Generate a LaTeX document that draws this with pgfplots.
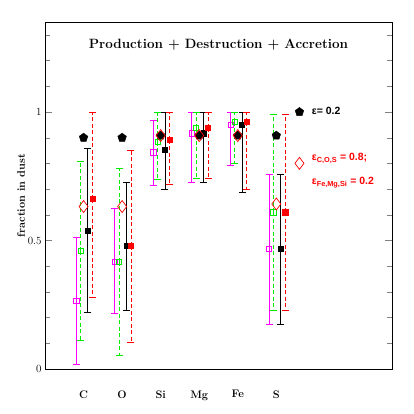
\documentclass[border=0pt]{standalone}
\usepackage{pgfplots}
\pgfplotsset{compat=1.18}
\usepackage{fontspec}
\newfontfamily\lsans{Liberation Sans}
\definecolor{mag}{RGB}{255,0,255}
\definecolor{grn}{RGB}{0,235,0}
\definecolor{rd}{RGB}{255,0,0}
\begin{document}
\begin{tikzpicture}
\begin{axis}[
  width=347bp, height=347bp, scale only axis,
  xmin=-1, xmax=8, ymin=0, ymax=1.35,
  xtick={0,1,2,3,4,5}, xticklabels={C,O,Si,Mg,Fe,S},
  x tick label style={yshift=-18bp, font=\fontsize{11}{13}\selectfont\bfseries},
  major x tick style={draw=none},
  ytick={0,0.5,1}, yticklabels={0,0.5,1},
  minor ytick={0.1,0.2,0.3,0.4,0.6,0.7,0.8,0.9,1.1,1.2,1.3},
  ytick pos=both, yticklabel pos=left,
  tick align=inside,
  major tick length=7bp, minor tick length=5bp,
  y tick label style={font=\fontsize{11}{13}\selectfont},
  ylabel={fraction in dust},
  ylabel style={font=\fontsize{11}{13}\selectfont\bfseries, yshift=-4bp},
  axis line style={line width=0.8pt},
  clip=false,
]
% magenta: open squares, solid bars
\addplot[mag, only marks, mark=square, mark size=2.6bp, mark options={line width=0.6pt},
  error bars/.cd, y dir=both, y explicit, error mark=|,
  error bar style={mag, line width=0.8pt},
  error mark options={mag, mark size=3.5bp, line width=0.8pt}]
  coordinates {
  (-0.19,0.265) += (0,0.246) -= (0,0.247)
  (0.81,0.418) += (0,0.205) -= (0,0.201)
  (1.81,0.843) += (0,0.126) -= (0,0.127)
  (2.81,0.917) += (0,0.083) -= (0,0.191)
  (3.81,0.949) += (0,0.051) -= (0,0.158)
  (4.81,0.467) += (0,0.292) -= (0,0.293)
  };
% green: open squares, dashed bars
\addplot[grn, only marks, mark=square, mark size=2.6bp, mark options={line width=0.6pt},
  error bars/.cd, y dir=both, y explicit, error mark=|,
  error bar style={grn, line width=0.8pt, dash pattern=on 4bp off 2.5bp},
  error mark options={grn, mark size=3.5bp, line width=0.8pt, solid}]
  coordinates {
  (-0.08,0.459) += (0,0.350) -= (0,0.346)
  (0.92,0.418) += (0,0.363) -= (0,0.364)
  (1.92,0.885) += (0,0.112) -= (0,0.147)
  (2.92,0.939) += (0,0.061) -= (0,0.197)
  (3.92,0.962) += (0,0.038) -= (0,0.162)
  (4.92,0.610) += (0,0.382) -= (0,0.383)
  };
% black: filled squares, solid bars
\addplot[black, only marks, mark=square*, mark size=2.6bp,
  error bars/.cd, y dir=both, y explicit, error mark=|,
  error bar style={black, line width=0.8pt},
  error mark options={black, mark size=3.5bp, line width=0.8pt}]
  coordinates {
  (0.11,0.538) += (0,0.319) -= (0,0.319)
  (1.11,0.479) += (0,0.247) -= (0,0.252)
  (2.11,0.852) += (0,0.145) -= (0,0.152)
  (3.11,0.917) += (0,0.083) -= (0,0.191)
  (4.11,0.949) += (0,0.051) -= (0,0.261)
  (5.11,0.467) += (0,0.292) -= (0,0.293)
  };
% red: filled squares, dashed bars
\addplot[rd, only marks, mark=square*, mark size=2.6bp,
  error bars/.cd, y dir=both, y explicit, error mark=|,
  error bar style={rd, line width=0.8pt, dash pattern=on 4bp off 2.5bp},
  error mark options={rd, mark size=3.5bp, line width=0.8pt, solid}]
  coordinates {
  (0.23,0.661) += (0,0.338) -= (0,0.382)
  (1.23,0.479) += (0,0.373) -= (0,0.377)
  (2.23,0.891) += (0,0.109) -= (0,0.171)
  (3.23,0.939) += (0,0.061) -= (0,0.197)
  (4.23,0.962) += (0,0.038) -= (0,0.262)
  (5.23,0.610) += (0,0.382) -= (0,0.383)
  };
% black pentagons
\addplot[black, only marks, mark=pentagon*, mark size=4.5bp]
  coordinates {(0,0.90) (1,0.90) (2,0.908) (3,0.908) (4,0.908) (5,0.908) (5.6,1.0)};
% red open diamonds
\addplot[rd, only marks, mark=diamond, mark size=6bp, mark options={line width=0.7pt, fill=none}]
  coordinates {(0,0.632) (1,0.632) (2,0.908) (3,0.908) (4,0.908) (5,0.642) (5.6,0.80)};

\node[font=\fontsize{13.5}{16}\selectfont\bfseries] at (axis cs:3.5,1.26) {Production + Destruction + Accretion};
\node[anchor=west, font=\lsans\bfseries\fontsize{10.5}{12}\selectfont] at (axis cs:5.83,1.005) {ε= 0.2};
\node[anchor=west, rd, font=\lsans\bfseries\fontsize{10.5}{12}\selectfont] at (axis cs:5.83,0.82) {ε\textsubscript{C,O,S} = 0.8;};
\node[anchor=west, rd, font=\lsans\bfseries\fontsize{10.5}{12}\selectfont] at (axis cs:5.83,0.725) {ε\textsubscript{Fe,Mg,Si} = 0.2};
\end{axis}
\pgfresetboundingbox
\path (current axis.south west) ++(-45bp,-45bp) coordinate (bl);
\path (current axis.north east) ++(22bp,22bp) coordinate (tr);
\path (bl) rectangle (tr);
\end{tikzpicture}
\end{document}
